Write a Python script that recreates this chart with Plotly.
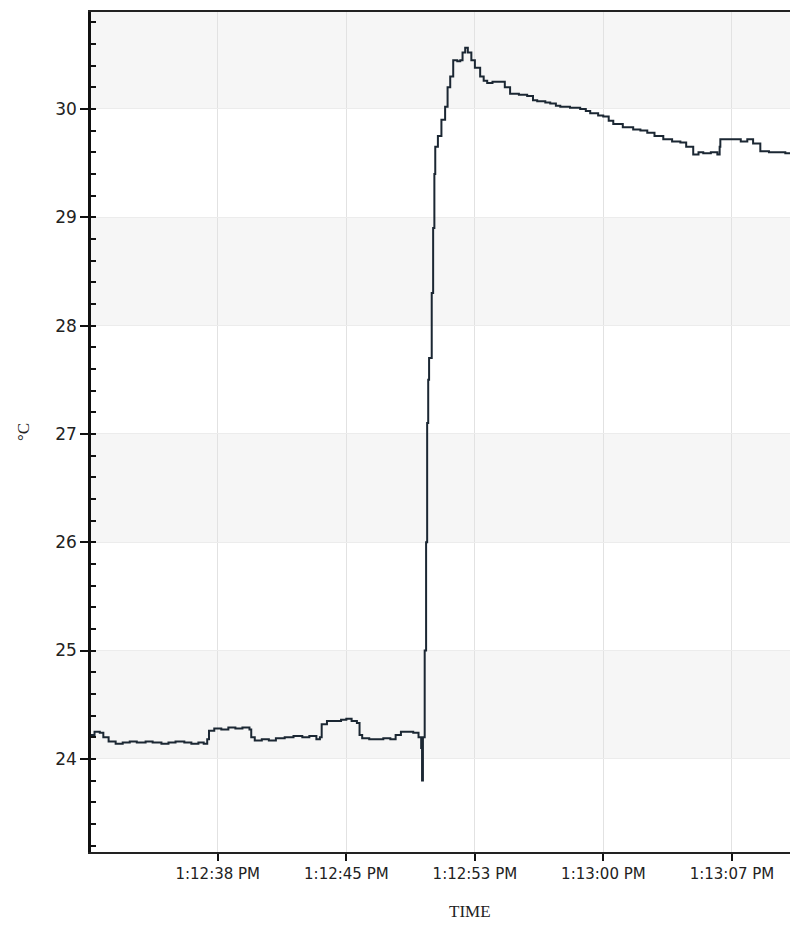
import plotly.graph_objects as go

# Time in seconds after 1:12:00 PM, temperature in °C
time_s = [31.2, 31.4, 31.7, 31.9, 32.2, 32.6, 33.0, 33.4, 33.8, 34.3, 34.7, 35.2, 35.6, 36.0,
          36.5, 36.9, 37.3, 37.6, 37.8, 37.9, 38.2, 38.6, 39.0, 39.4, 39.8, 40.2, 40.3, 40.5,
          40.9, 41.3, 41.7, 42.2, 42.7, 43.2, 43.6, 44.0, 44.2, 44.3, 44.6, 45.0, 45.4, 45.7,
          46.0, 46.3, 46.45, 46.6, 47.0, 47.4, 47.8, 48.2, 48.5, 48.8, 49.2, 49.5, 49.8, 49.95,
          50.0, 50.05, 50.15, 50.23, 50.29, 50.35, 50.4, 50.46, 50.55, 50.63, 50.7, 50.75, 50.9,
          51.1, 51.31, 51.45, 51.6, 51.77, 52.0, 52.17, 52.3, 52.45, 52.6, 52.8, 53.0, 53.3,
          53.5, 53.7, 54.0, 54.4, 54.7, 55.0, 55.5, 55.97, 56.3, 56.54, 57.0, 57.28, 57.6, 57.85,
          58.4, 58.98, 59.3, 59.55, 60.0, 60.29, 60.6, 60.86, 61.4, 61.99, 62.4, 62.79, 63.2,
          63.7, 64.2, 64.67, 65.0, 65.4, 65.7, 65.97, 66.4, 66.77, 66.9, 66.94, 67.3, 67.68,
          68.1, 68.47, 68.8, 69.21, 69.7, 70.18, 70.63, 71.0, 71.35]
temp_c = [24.22, 24.25, 24.24, 24.20, 24.16, 24.14, 24.15, 24.16, 24.15, 24.16, 24.15, 24.14, 24.15, 24.16,
          24.15, 24.14, 24.15, 24.14, 24.18, 24.26, 24.28, 24.27, 24.29, 24.28, 24.29, 24.27, 24.20, 24.17,
          24.18, 24.17, 24.19, 24.20, 24.21, 24.20, 24.21, 24.18, 24.20, 24.32, 24.35, 24.35, 24.36, 24.37,
          24.35, 24.33, 24.22, 24.19, 24.18, 24.18, 24.19, 24.18, 24.22, 24.25, 24.25, 24.24, 24.20, 24.10,
          23.80, 24.20, 25.00, 26.00, 27.10, 27.50, 27.70, 27.70, 28.30, 28.90, 29.40, 29.65, 29.75,
          29.90, 30.02, 30.20, 30.30, 30.45, 30.44, 30.45, 30.52, 30.565, 30.52, 30.45, 30.38, 30.30,
          30.26, 30.24, 30.25, 30.25, 30.20, 30.14, 30.13, 30.12, 30.08, 30.07, 30.06, 30.05, 30.03, 30.02,
          30.01, 30.00, 29.98, 29.96, 29.94, 29.93, 29.89, 29.86, 29.83, 29.81, 29.80, 29.78, 29.75,
          29.72, 29.70, 29.69, 29.65, 29.58, 29.60, 29.59, 29.60, 29.58, 29.65, 29.72, 29.72, 29.72,
          29.70, 29.72, 29.68, 29.61, 29.60, 29.60, 29.59, 29.56, 29.54]

x_tick_vals = [38.4, 45.7, 53.0, 60.3, 67.6]
x_tick_text = ["1:12:38 PM", "1:12:45 PM", "1:12:53 PM", "1:13:00 PM", "1:13:07 PM"]
y_tick_vals = [24, 25, 26, 27, 28, 29, 30]
band_starts = [24, 26, 28, 30]

fig = go.Figure()
fig.add_trace(go.Scatter(x=time_s, y=temp_c, mode="lines",
                         line=dict(color="#1b2733", width=2, shape="hv"),
                         showlegend=False))

for b in band_starts:
    fig.add_shape(type="rect", xref="paper", yref="y", x0=0, x1=1, y0=b, y1=b + 1,
                  fillcolor="#f6f6f6", line=dict(width=0), layer="below")

fig.add_annotation(text="TIME", xref="paper", yref="paper", x=0.536, y=-0.071,
                   xanchor="center", yanchor="middle", showarrow=False,
                   font=dict(family="Liberation Serif", size=17, color="#222222"))

fig.update_layout(
    width=790, height=918,
    margin=dict(l=83, r=0, t=4, b=74),
    paper_bgcolor="white", plot_bgcolor="white",
    font=dict(family="DejaVu Sans", color="#222222"),
)
fig.update_xaxes(
    range=[31.2, 71.35], tickvals=x_tick_vals, ticktext=x_tick_text,
    tickfont=dict(size=15, color="#222222"),
    showgrid=True, gridcolor="#e2e2e2", gridwidth=1,
    ticks="outside", ticklen=7, tickwidth=2, tickcolor="#111111",
    showline=True, linecolor="#222222", linewidth=2, mirror=True,
    zeroline=False,
)
fig.update_yaxes(
    range=[23.14, 30.895], tickvals=y_tick_vals,
    tickfont=dict(size=17, color="#222222"),
    showgrid=True, gridcolor="#ececec", gridwidth=1,
    ticks="outside", ticklen=8, tickwidth=2, tickcolor="#111111",
    minor=dict(dtick=0.2, tick0=24, ticks="inside", ticklen=5, tickwidth=2, tickcolor="#111111", showgrid=False),
    showline=True, linecolor="#111111", linewidth=2.5,
    zeroline=False,
    title=dict(text="°C", font=dict(family="Liberation Serif", size=17, color="#222222"), standoff=22),
)

fig.write_html("out.html")
